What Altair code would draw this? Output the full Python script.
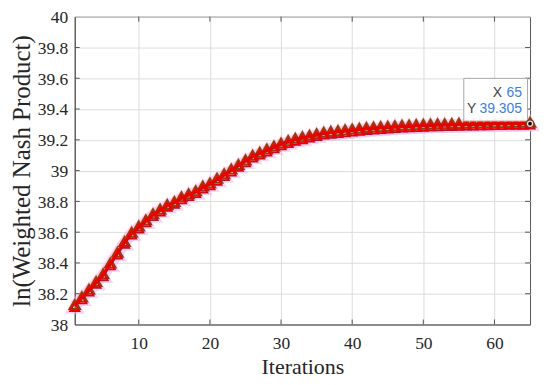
import altair as alt
import pandas as pd

iterations = list(range(1, 66))
values = [
    38.12, 38.17, 38.22, 38.27, 38.32, 38.39, 38.46, 38.53, 38.59, 38.63,
    38.67, 38.71, 38.74, 38.77, 38.79, 38.82, 38.84, 38.86, 38.89, 38.91,
    38.94, 38.97, 39.00, 39.03, 39.06, 39.09, 39.11, 39.13, 39.15, 39.17,
    39.185, 39.20, 39.21, 39.22, 39.23, 39.24, 39.245, 39.25, 39.255, 39.26,
    39.265, 39.27, 39.273, 39.276, 39.279, 39.282, 39.285, 39.287, 39.289, 39.291,
    39.293, 39.294, 39.295, 39.296, 39.297, 39.298, 39.299, 39.300, 39.301, 39.302,
    39.302, 39.303, 39.304, 39.304, 39.305,
]
x_ticks = [10, 20, 30, 40, 50, 60]
y_ticks = [38, 38.2, 38.4, 38.6, 38.8, 39, 39.2, 39.4, 39.6, 39.8, 40]
tip_x = 65
tip_y = 39.305

df = pd.DataFrame({"it": iterations, "v": values})
W, H = 457, 309
SERIF = "Liberation Serif"

xs = alt.Scale(domain=[1, 65], nice=False)
ys = alt.Scale(domain=[38, 40], nice=False)

xaxis = alt.Axis(values=x_ticks, title="Iterations", grid=True, gridColor="#dcdcdc",
                 tickSize=0, labelPadding=10, labelFont=SERIF, labelFontSize=17.5,
                 labelColor="#262626", titleFont=SERIF, titleFontSize=22,
                 titleFontWeight="normal", titleColor="#262626", titlePadding=5,
                 domainColor="#555555", labelFlush=False, labelOverlap=False)
yaxis = alt.Axis(values=y_ticks, format="~g", title="ln(Weighted Nash Product)", grid=True,
                 gridColor="#dcdcdc", tickSize=0, labelPadding=7, labelFont=SERIF,
                 labelFontSize=17.5, labelColor="#262626", labelBaseline="alphabetic",
                 labelOffset=6, labelFlush=False,
                 titleFont=SERIF, titleFontSize=25,
                 titleFontWeight="normal", titleColor="#262626", titlePadding=3,
                 domainColor="#555555", labelOverlap=False)


def X(f="it"):
    return alt.X(f"{f}:Q", scale=xs, axis=xaxis)


def Y(f="v"):
    return alt.Y(f"{f}:Q", scale=ys, axis=yaxis)


base = alt.Chart(df)

glow_line = base.mark_line(color="#ff9df0", strokeWidth=12, opacity=0.45).encode(x=X(), y=Y())
glow_pts = base.mark_point(shape="triangle-up", size=170, color="#ffb3f2", strokeWidth=4,
                           opacity=0.6, filled=False).encode(x=X(), y=Y())
brown_pts = base.mark_point(shape="triangle-up", size=110, color="#7a4a10", strokeWidth=2,
                            opacity=1, filled=False, yOffset=-1.5).encode(x=X(), y=Y())
red_line = base.mark_line(color="#e80000", strokeWidth=3).encode(x=X(), y=Y())
red_pts = base.mark_point(shape="triangle-up", size=85, color="#ee0000", strokeWidth=1.8,
                          opacity=1, filled=False, yOffset=1).encode(x=X(), y=Y())

# inward ticks on all four sides
tick_x = pd.DataFrame({"it": x_ticks})
tick_y = pd.DataFrame({"v": y_ticks[1:-1]})
tx_bottom = alt.Chart(tick_x).mark_rule(color="#555555").encode(
    x=X(), y=alt.value(H), y2=alt.value(H - 5))
tx_top = alt.Chart(tick_x).mark_rule(color="#555555").encode(
    x=X(), y=alt.value(0), y2=alt.value(5))
ty_left = alt.Chart(tick_y).mark_rule(color="#555555").encode(
    y=Y(), x=alt.value(0), x2=alt.value(5))
ty_right = alt.Chart(tick_y).mark_rule(color="#555555").encode(
    y=Y(), x=alt.value(W), x2=alt.value(W - 5))

# data tip
tip = pd.DataFrame({"it": [tip_x], "v": [tip_y]})
tb = alt.Chart(tip)
box = tb.mark_point(shape="M-1,-0.67L1,-0.67L1,0.67L-1,0.67Z", size=4096, filled=True,
                    fill="#ffffff", fillOpacity=0.95, stroke="#a8a8a8", strokeWidth=1,
                    strokeOpacity=1, xOffset=-34.5, yOffset=-24).encode(x=X(), y=Y())
val_x = tb.mark_text(align="right", baseline="middle", font="Liberation Sans", fontSize=14,
                     color="#3b7fe0", xOffset=-8, yOffset=-31).encode(
    x=X(), y=Y(), text=alt.value(str(tip_x)))
val_y = tb.mark_text(align="right", baseline="middle", font="Liberation Sans", fontSize=14,
                     color="#3b7fe0", xOffset=-8, yOffset=-15).encode(
    x=X(), y=Y(), text=alt.value(f"{tip_y:.3f}"))
lab_x = tb.mark_text(align="right", baseline="middle", font="Liberation Sans", fontSize=14,
                     color="#444444", xOffset=-28, yOffset=-31).encode(
    x=X(), y=Y(), text=alt.value("X"))
lab_y = tb.mark_text(align="right", baseline="middle", font="Liberation Sans", fontSize=14,
                     color="#444444", xOffset=-54, yOffset=-15).encode(
    x=X(), y=Y(), text=alt.value("Y"))
dot_ring = tb.mark_point(shape="circle", size=60, filled=True, color="#f5d0e0",
                         stroke="#6b3a10", strokeWidth=1.2, opacity=1).encode(x=X(), y=Y())
dot = tb.mark_point(shape="circle", size=14, filled=True, color="#111111",
                    opacity=1).encode(x=X(), y=Y())

chart = alt.layer(
    glow_line, glow_pts, brown_pts, red_line, red_pts,
    tx_bottom, tx_top, ty_left, ty_right,
    box, val_x, val_y, lab_x, lab_y, dot_ring, dot,
).properties(
    width=W, height=H,
    autosize=alt.AutoSizeParams(type="none"),
    padding={"left": 67, "top": 8, "right": 12, "bottom": 58},
    background="white",
).configure_view(stroke="#555555", strokeWidth=1)

chart.save("out.html", embed_options={"renderer": "svg", "actions": False})
